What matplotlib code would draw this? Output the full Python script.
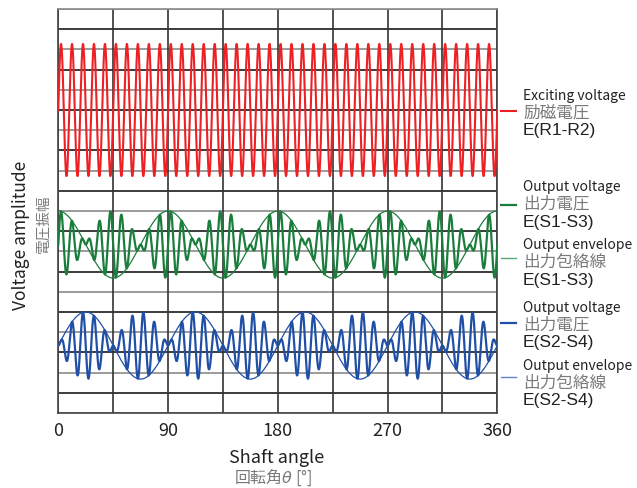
import numpy as np
import matplotlib
matplotlib.use("Agg")
import matplotlib.pyplot as plt
from matplotlib import font_manager
from matplotlib.lines import Line2D

# ------------------------------------------------------------------
# Signal parameters (grid units, 0..20 rows)
# ------------------------------------------------------------------
carrier_cycles = 40          # excitation cycles over one turn
envelope_cycles = 4          # output envelope cycles over one turn (4X)

exc_center, exc_amp = 15.0, 3.27
s13_center, s13_amp = 8.34, 1.66
s24_center, s24_amp = 3.34, 1.66

x_ticks = [0, 90, 180, 270, 360]
x_grid = [0, 45, 90, 135, 180, 225, 270, 315, 360]
y_rows = list(range(0, 21))

legend_entries = [
    # (english, japanese, terminal, colour, linewidth, line y px, text y px)
    ("Exciting voltage", "励磁電圧", "E(R1-R2)", "#ee2024", 1.5, 112, 96),
    ("Output voltage", "出力電圧", "E(S1-S3)", "#1b7d3c", 1.6, 206, 187),
    ("Output envelope", "出力包絡線", "E(S1-S3)", "#5aa877", 1.0, 259, 245),
    ("Output voltage", "出力電圧", "E(S2-S4)", "#2050a6", 1.6, 324, 308),
    ("Output envelope", "出力包絡線", "E(S2-S4)", "#5f85c6", 1.0, 378, 366),
]

W, H = 637, 489
JP = ["Noto Sans CJK JP", "DejaVu Sans"]
GRAY_TXT = "#7a7a7a"

installed = {f.name for f in font_manager.fontManager.ttflist}
if "Liberation Sans Narrow" in installed:
    NARROW, NARROW_SIZE = ["Liberation Sans Narrow", "DejaVu Sans"], 12
else:
    NARROW, NARROW_SIZE = JP, 10


def fx(px):
    return px / W


def fy(py):
    return 1 - py / H


theta = np.linspace(0, 360, 9000)
rad = np.deg2rad(theta)
carrier = np.sin(carrier_cycles * rad)
env13 = np.cos(envelope_cycles * rad)
env24 = np.sin(envelope_cycles * rad)

fig = plt.figure(figsize=(W / 100, H / 100), dpi=100)
ax = fig.add_axes([fx(58.3), fy(414), fx(497.3) - fx(58.3), fy(10) - fy(414)])

# grid
for r in y_rows:
    col = "#1a1a1a" if r % 2 else "#8a8a8a"
    ax.axhline(r, color=col, lw=1.2, zorder=1)
for g in x_grid:
    ax.axvline(g, color="#333333", lw=1.2, zorder=1)

ax.plot(theta, exc_center + exc_amp * carrier, color=legend_entries[0][3], lw=1.5, zorder=3)
ax.plot(theta, s13_center + s13_amp * env13 * carrier, color=legend_entries[1][3], lw=1.6, zorder=3)
ax.plot(theta, s13_center + s13_amp * env13, color=legend_entries[1][3], lw=0.9, zorder=3)
ax.plot(theta, s24_center + s24_amp * env24 * carrier, color=legend_entries[3][3], lw=1.6, zorder=3)
ax.plot(theta, s24_center + s24_amp * env24, color=legend_entries[3][3], lw=0.9, zorder=3)

ax.set_xlim(0, 360)
ax.set_ylim(0, 20)
ax.set_xticks(x_ticks)
ax.set_xticklabels([str(t) for t in x_ticks], fontsize=13, family=JP, color="#222222")
ax.tick_params(axis="x", length=0, pad=6)
ax.set_yticks([])
for side, spine in ax.spines.items():
    spine.set_linewidth(1.2)
    spine.set_color("#8a8a8a" if side == "top" else "#444444")

# axis titles
fig.text(fx(277), fy(458), "Shaft angle", ha="center", va="center",
         fontsize=13, family=JP, color="#222222")
fig.text(fx(273), fy(478), r"回転角$\it{\theta}$ [°]", ha="center", va="center",
         fontsize=11.5, family=JP, color=GRAY_TXT)
fig.text(fx(21), fy(235), "Voltage amplitude", ha="center", va="center",
         rotation=90, fontsize=12.5, family=JP, color="#222222")
fig.text(fx(43), fy(224), "電圧振幅", ha="center", va="center",
         rotation=90, fontsize=10.5, family=JP, color=GRAY_TXT)

# legend drawn by hand to the right of the axes
for eng, jp, term, col, lw, ly, ty in legend_entries:
    fig.add_artist(Line2D([fx(501), fx(516)], [fy(ly), fy(ly)], color=col, lw=lw))
    fig.text(fx(523), fy(ty), eng, ha="left", va="center", fontsize=NARROW_SIZE,
             family=NARROW, color="#222222")
    fig.text(fx(523), fy(ty + 17), jp, ha="left", va="center", fontsize=12,
             family=JP, color=GRAY_TXT)
    fig.text(fx(523), fy(ty + 35), term, ha="left", va="center", fontsize=12.5,
             family=["Liberation Sans", "DejaVu Sans"], color="#222222")

fig.savefig("out.png", dpi=100)
